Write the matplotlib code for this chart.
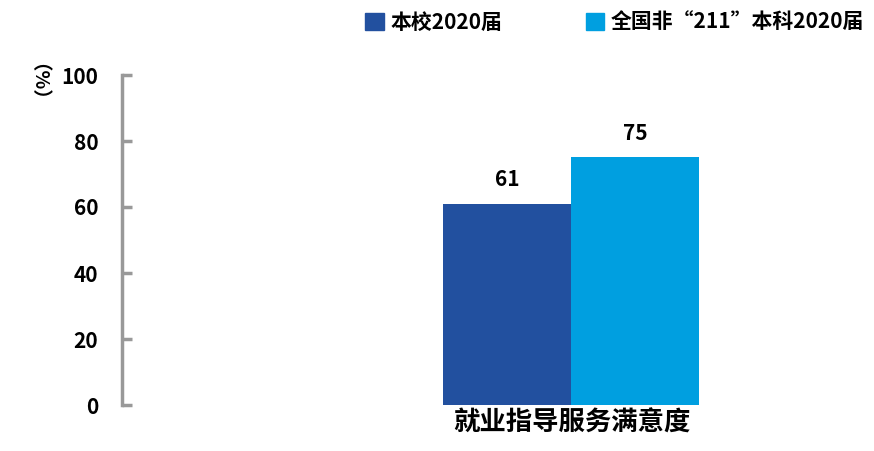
import matplotlib
matplotlib.use('Agg')
import matplotlib.pyplot as plt
from matplotlib.patches import Patch

plt.rcParams['font.family'] = ['Noto Sans CJK SC', 'DejaVu Sans']

category = '就业指导服务满意度'
series_names = ['本校2020届', '全国非“211”本科2020届']
values = [61, 75]
colors = ['#22509F', '#009FE0']
y_ticks = [0, 20, 40, 60, 80, 100]

fig = plt.figure(figsize=(8.74, 4.51), dpi=100)
ax = fig.add_axes([122 / 874, 46 / 451, 752 / 874, 330 / 451])

width = 0.4
offsets = [-width / 2, width / 2]
for off, v, c in zip(offsets, values, colors):
    ax.bar(off, v, width=width, color=c)
    ax.text(off, v + 4, str(v), ha='center', va='bottom',
            fontsize=15, fontweight='heavy')

ax.set_xlim(-1.403, 0.947)
ax.set_ylim(0, 100)
ax.set_yticks(y_ticks)
ax.set_yticklabels([str(t) for t in y_ticks], fontsize=15, fontweight='heavy')
ax.set_xticks([])

for s in ['top', 'right', 'bottom']:
    ax.spines[s].set_visible(False)
ax.spines['left'].set_color('#999999')
ax.spines['left'].set_linewidth(2.5)
ax.tick_params(axis='y', direction='in', length=7, width=2.5,
               color='#999999', pad=17)

fig.text(0.5 * (443 + 701) / 874, 14 / 451, category, ha='center', va='bottom',
         fontsize=19, fontweight='heavy')
fig.text(28 / 874, 1 - 92 / 451, '（%）', rotation=-90, ha='center', va='center',
         fontsize=14, fontweight='heavy')

handles = [Patch(color=c) for c in colors]
fig.legend(handles, series_names, loc='center right', ncol=2,
           bbox_to_anchor=(1.01, 1 - 22 / 451), frameon=False,
           prop={'size': 15, 'weight': 'heavy'},
           handlelength=0.9, handleheight=0.9, handletextpad=0.3,
           columnspacing=4.0)

fig.savefig('out.png', dpi=100)
